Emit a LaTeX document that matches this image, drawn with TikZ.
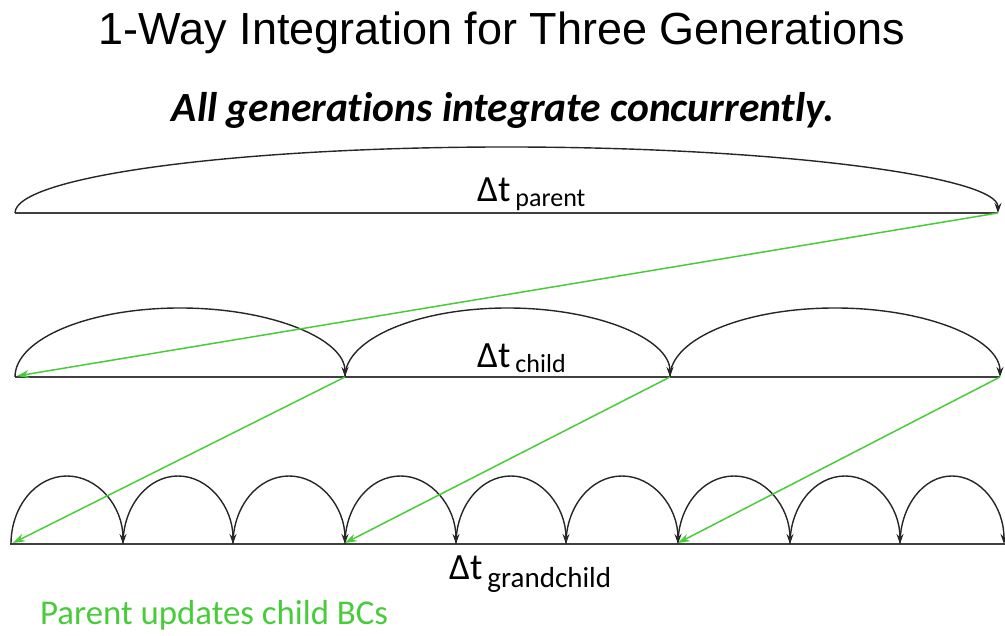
\documentclass[tikz,border=0pt]{standalone}
\usepackage{fontspec}
\setmainfont[Ligatures={NoCommon}]{Carlito}
\newfontfamily\titlefont{Liberation Sans}
\usetikzlibrary{arrows.meta,calc}
\definecolor{bcgreen}{RGB}{72,204,58}
% step label: #1 subscript size, #2 drop of the subscript, #3 subscript text
\newcommand{\dtlabel}[3]{{\fontsize{37}{37}\selectfont Δt}\hspace{5pt}\raisebox{-#2}{\fontsize{#1}{#1}\selectfont #3}}
\begin{document}
\begin{tikzpicture}[x=1pt,y=1pt,
  axis/.style={draw=black!75,line width=1.6pt},
  hop/.style={draw=black!85,line width=1.4pt,-{Stealth[length=10pt,width=7pt]}},
  bc/.style={draw=bcgreen,line width=1.5pt,-{Stealth[length=12pt,width=8pt]}},
  lbl/.style={inner sep=0pt,anchor=base west}]
\useasboundingbox (0,0) rectangle (1005,636);

% headings
\node[inner sep=0pt,anchor=base] (title) at (502,591)
  {\titlefont\fontsize{45}{45}\selectfont 1-Way Integration for Three Generations};
\node[inner sep=0pt,anchor=base] (sub) at (503,514)
  {\fontsize{41.5}{41.5}\selectfont\bfseries\itshape All generations integrate concurrently.};

% time levels
\coordinate (P0) at (15,423);  \coordinate (P1) at (998,423);
\coordinate (C0) at (15,259);  \coordinate (C1) at (345,259);
\coordinate (C2) at (670,259); \coordinate (C3) at (1000,259);
\foreach \i/\x in {0/11,1/123,2/233,3/345,4/456,5/566,6/678,7/790,8/900,9/1004}
  \coordinate (G\i) at (\x,92);
\coordinate (Pl) at (15,423);  \coordinate (Pr) at (998,423);
\coordinate (Cl) at (15,259);  \coordinate (Cr) at (1000,259);
\coordinate (Gl) at (10,92);   \coordinate (Gr) at (1005,92);

\draw[axis] (Pl) -- (Pr);
\draw[axis] (Cl) -- (Cr);
\draw[axis] (Gl) -- (Gr);

% time steps
\draw[hop] let \p1=(P0), \p2=(P1) in
  (P0) arc[start angle=180,end angle=0,x radius={(\x2-\x1)/2},y radius=66pt];
\foreach \a/\b in {C0/C1,C1/C2,C2/C3}
  \draw[hop] let \p1=(\a), \p2=(\b) in
    (\a) arc[start angle=180,end angle=0,x radius={(\x2-\x1)/2},y radius=69pt];
\foreach \a/\b in {G0/G1,G1/G2,G2/G3,G3/G4,G4/G5,G5/G6,G6/G7,G7/G8,G8/G9}
  \draw[hop] let \p1=(\a), \p2=(\b) in
    (\a) arc[start angle=180,end angle=0,x radius={(\x2-\x1)/2},y radius=68pt];

% boundary condition updates
\draw[bc] (P1) -- ([xshift=2pt,yshift=1pt]C0);
\draw[bc] (C1) -- ([xshift=2pt,yshift=1pt]G0);
\draw[bc] (C2) -- ([xshift=0pt,yshift=1pt]G3);
\draw[bc] (C3) -- ([xshift=0pt,yshift=1pt]G6);

% step labels
\node[lbl] (lp) at (477,434) {\dtlabel{26}{5pt}{parent}};
\node[lbl] (lc) at (477,268) {\dtlabel{26}{5pt}{child}};
\node[lbl] (lg) at (449,56) {\dtlabel{29}{8pt}{grandchild}};

\node[lbl,text=bcgreen] (note) at (40,11)
  {\fontsize{34.8}{34.8}\selectfont Parent updates child BCs};
\end{tikzpicture}
\end{document}
